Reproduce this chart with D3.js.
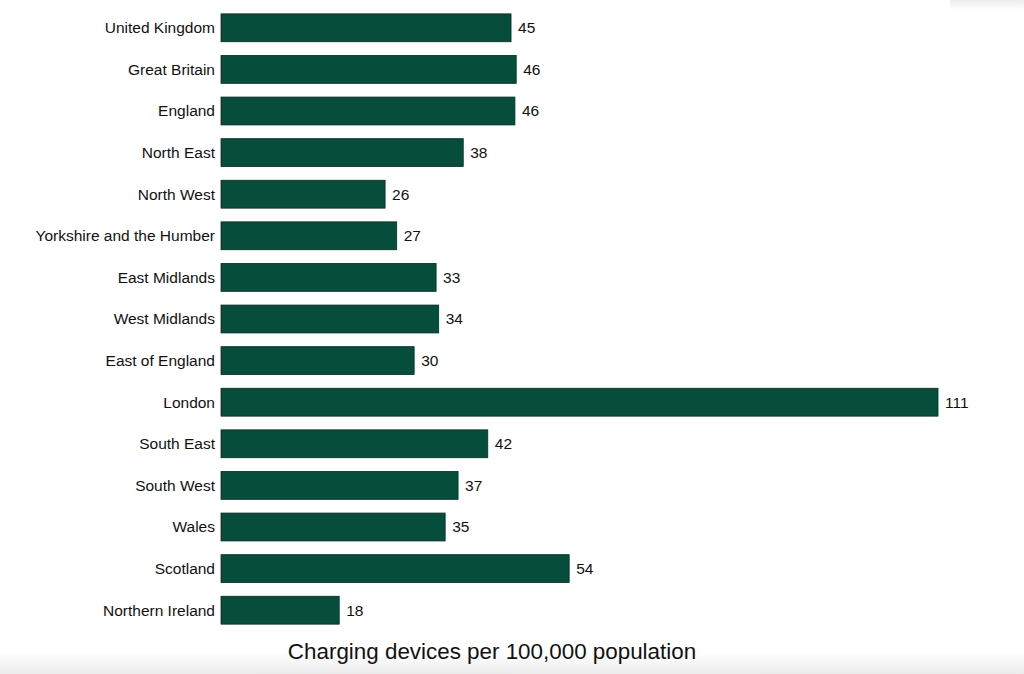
<!DOCTYPE html>
<html><head><meta charset="utf-8">
<script src="https://cdn.jsdelivr.net/npm/d3@7"></script>
<style>body{margin:0;background:#fff;}svg{display:block;font-family:"Liberation Sans",Arial,sans-serif;}</style>
</head><body>
<svg id="c" width="1024" height="674"></svg>
<script>
const categories = ["United Kingdom","Great Britain","England","North East","North West","Yorkshire and the Humber","East Midlands","West Midlands","East of England","London","South East","South West","Wales","Scotland","Northern Ireland"];
const values = [44.9,45.7,45.5,37.5,25.4,27.2,33.3,33.7,29.9,111,41.3,36.7,34.7,53.9,18.3];
const labels = [45,46,46,38,26,27,33,34,30,111,42,37,35,54,18];
const axisTitle = "Charging devices per 100,000 population";

const svg = d3.select("#c");
const defs = svg.append("defs");
const g1 = defs.append("linearGradient").attr("id","shB").attr("x1",0).attr("y1",0).attr("x2",0).attr("y2",1);
g1.append("stop").attr("offset","0").attr("stop-color","#fff");
g1.append("stop").attr("offset","1").attr("stop-color","#ececec");
svg.append("rect").attr("x",0).attr("y",652).attr("width",1024).attr("height",22).attr("fill","url(#shB)");
const g2 = defs.append("linearGradient").attr("id","shT").attr("x1",0).attr("y1",1).attr("x2",0).attr("y2",0);
g2.append("stop").attr("offset","0").attr("stop-color","#fff");
g2.append("stop").attr("offset","1").attr("stop-color","#ececec");
svg.append("rect").attr("x",950).attr("y",0).attr("width",74).attr("height",10).attr("fill","url(#shT)");

const x = d3.scaleLinear().domain([0,111]).range([221,938]);
const y = d3.scaleBand().domain(categories).range([7,631]).paddingInner(0.33).paddingOuter(0.165);

svg.selectAll("rect.bar").data(categories).join("rect")
  .attr("class","bar")
  .attr("x",x(0)).attr("y",d=>y(d))
  .attr("width",(d,i)=>x(values[i])-x(0))
  .attr("height",y.bandwidth())
  .attr("fill","#074d3c").attr("stroke","#0a2a20").attr("stroke-width",0.8);

svg.selectAll("text.cat").data(categories).join("text")
  .attr("class","cat")
  .attr("x",215).attr("y",d=>y(d)+y.bandwidth()/2)
  .attr("dy","0.35em").attr("text-anchor","end")
  .attr("font-size",15.5).attr("fill","#111").text(d=>d);

svg.selectAll("text.val").data(categories).join("text")
  .attr("class","val")
  .attr("x",(d,i)=>x(values[i])+7).attr("y",d=>y(d)+y.bandwidth()/2)
  .attr("dy","0.35em").attr("font-size",15.5).attr("fill","#111")
  .text((d,i)=>labels[i]);

svg.append("text").attr("x",492).attr("y",659).attr("text-anchor","middle")
  .attr("font-size",22.4).attr("fill","#111").text(axisTitle);
</script>
</body></html>
